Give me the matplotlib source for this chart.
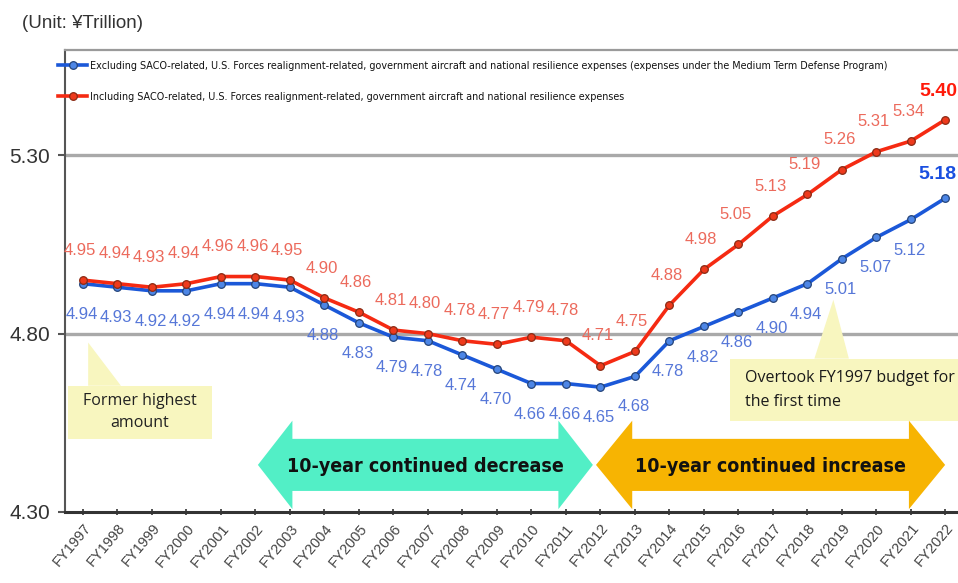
import matplotlib
matplotlib.use("Agg")
import matplotlib.pyplot as plt
from matplotlib.patches import Polygon, Rectangle

# ---------------- data ----------------
years = ["FY1997", "FY1998", "FY1999", "FY2000", "FY2001", "FY2002", "FY2003",
         "FY2004", "FY2005", "FY2006", "FY2007", "FY2008", "FY2009", "FY2010",
         "FY2011", "FY2012", "FY2013", "FY2014", "FY2015", "FY2016", "FY2017",
         "FY2018", "FY2019", "FY2020", "FY2021", "FY2022"]
excluding = [4.94, 4.93, 4.92, 4.92, 4.94, 4.94, 4.93, 4.88, 4.83, 4.79, 4.78,
             4.74, 4.70, 4.66, 4.66, 4.65, 4.68, 4.78, 4.82, 4.86, 4.90, 4.94,
             5.01, 5.07, 5.12, 5.18]
including = [4.95, 4.94, 4.93, 4.94, 4.96, 4.96, 4.95, 4.90, 4.86, 4.81, 4.80,
             4.78, 4.77, 4.79, 4.78, 4.71, 4.75, 4.88, 4.98, 5.05, 5.13, 5.19,
             5.26, 5.31, 5.34, 5.40]
yticks = [4.30, 4.80, 5.30]
label_excl = ("Excluding SACO-related, U.S. Forces realignment-related, government aircraft "
              "and national resilience expenses (expenses under the Medium Term Defense Program)")
label_incl = ("Including SACO-related, U.S. Forces realignment-related, government aircraft "
              "and national resilience expenses")
unit_text = "(Unit: ¥Trillion)"
note_former = "Former highest\namount"
note_overtook = "Overtook FY1997 budget for\nthe first time"
arrow_dec = "10-year continued decrease"
arrow_inc = "10-year continued increase"

# ---------------- style ----------------
BLUE = "#1b58d8"
RED = "#f52a12"
BLUE_LBL = "#5677d8"
RED_LBL = "#ec6a5c"
YELLOW = "#f8f6bf"
GREEN = "#52efc6"
ORANGE = "#f7b402"

fig = plt.figure(figsize=(9.58, 5.83), dpi=100)
fig.patch.set_facecolor("white")
ax = fig.add_axes([0.0679, 0.1218, 0.932, 0.7924])

x = list(range(len(years)))
ax.set_xlim(-0.52, 25.36)
ax.set_ylim(4.30, 5.595)

# reference lines
for yv in (4.80, 5.30):
    ax.axhline(yv, color="#a9a9a9", lw=2.4, zorder=0.5)

# callout boxes (yellow)
ax.add_patch(Rectangle((-0.43, 4.505), 4.17, 0.149, facecolor=YELLOW, edgecolor="none", zorder=1))
ax.add_patch(Polygon([(0.15, 4.654), (0.15, 4.775), (1.1, 4.654)], closed=True,
                     facecolor=YELLOW, edgecolor="none", zorder=1))
ax.text(1.65, 4.58, note_former, ha="center", va="center", fontsize=11.5,
        family=["Open Sans", "DejaVu Sans"], color="#222222", linespacing=1.5, zorder=5)

ax.add_patch(Rectangle((18.75, 4.556), 7.0, 0.174, facecolor=YELLOW, edgecolor="none", zorder=1))
ax.add_patch(Polygon([(21.2, 4.73), (21.75, 4.895), (22.2, 4.73)], closed=True,
                     facecolor=YELLOW, edgecolor="none", zorder=1))
ax.text(19.19, 4.642, note_overtook, ha="left", va="center", fontsize=11.5,
        family=["Open Sans", "DejaVu Sans"], color="#1a1a1a", linespacing=1.6, zorder=5)

# double-headed arrows
def double_arrow(x0, x1, head, yc, hh, bh, color):
    pts = [(x0, yc), (x0 + head, yc + hh), (x0 + head, yc + bh), (x1 - head, yc + bh),
           (x1 - head, yc + hh), (x1, yc), (x1 - head, yc - hh), (x1 - head, yc - bh),
           (x0 + head, yc - bh), (x0 + head, yc - hh)]
    ax.add_patch(Polygon(pts, closed=True, facecolor=color, edgecolor="none", zorder=2))

double_arrow(5.07, 14.78, 1.0, 4.432, 0.124, 0.073, GREEN)
double_arrow(14.87, 24.99, 1.05, 4.432, 0.124, 0.073, ORANGE)
ax.text(9.92, 4.428, arrow_dec, ha="center", va="center", fontsize=14, fontweight="bold",
        fontstretch="condensed", family="DejaVu Sans", color="#111111", zorder=5)
ax.text(19.93, 4.428, arrow_inc, ha="center", va="center", fontsize=14, fontweight="bold",
        fontstretch="condensed", family="DejaVu Sans", color="#111111", zorder=5)

# lines
ax.plot(x, excluding, color=BLUE, lw=2.6, marker="o", ms=5.5, mfc="#4d86e6",
        mec="#24447a", mew=0.9, zorder=3, label=label_excl)
ax.plot(x, including, color=RED, lw=2.6, marker="o", ms=5.5, mfc="#ee3a1c",
        mec="#8a2a14", mew=0.9, zorder=3.1, label=label_incl)

# data labels
lblfont = ["Liberation Sans", "DejaVu Sans"]
n = len(years)
for i, v in enumerate(including):
    if i == n - 1:
        ax.annotate(f"{v:.2f}", (i, v), xytext=(-5, 20), textcoords="offset points",
                    ha="center", va="center", fontsize=14, fontweight="bold",
                    color="#ff1a0a", family=lblfont, zorder=6)
    else:
        ax.annotate(f"{v:.2f}", (i, v), xytext=(-2, 21.5), textcoords="offset points",
                    ha="center", va="center", fontsize=12, color=RED_LBL,
                    family=lblfont, zorder=6)
for i, v in enumerate(excluding):
    if i == n - 1:
        ax.annotate(f"{v:.2f}", (i, v), xytext=(-6, 17), textcoords="offset points",
                    ha="center", va="center", fontsize=14, fontweight="bold",
                    color="#1a4fe0", family=lblfont, zorder=6)
    else:
        ax.annotate(f"{v:.2f}", (i, v), xytext=(-1, -22), textcoords="offset points",
                    ha="center", va="center", fontsize=12, color=BLUE_LBL,
                    family=lblfont, zorder=6)

# axes styling
ax.spines["right"].set_visible(False)
ax.spines["top"].set_color("#9a9a9a")
ax.spines["top"].set_linewidth(1.6)
ax.spines["left"].set_color("#555555")
ax.spines["left"].set_linewidth(1.5)
ax.spines["bottom"].set_color("#333333")
ax.spines["bottom"].set_linewidth(2.2)

ax.set_yticks(yticks)
ax.set_yticklabels([f"{t:.2f}" for t in yticks], family=lblfont, fontsize=15, color="#333333")
ax.tick_params(axis="y", length=5, width=1.5, color="#555555", pad=6)
ax.set_xticks(x)
ax.set_xticklabels(years, rotation=50, ha="right", rotation_mode="anchor",
                   family=lblfont, fontsize=10.5, color="#444444")
ax.tick_params(axis="x", direction="inout", length=5, width=1.2, color="#333333", pad=4)

# legend
leg = ax.legend(loc="upper left", bbox_to_anchor=(-0.012, 0.985), frameon=False,
                fontsize=6.95, handlelength=3.0, handletextpad=0.3, labelspacing=2.15,
                borderaxespad=0)
for t in leg.get_texts():
    t.set_color("#111111")

fig.text(22 / 958, 1 - 23 / 583, unit_text, ha="left", va="center", fontsize=13.5,
         family=lblfont, color="#333333")

fig.savefig("out.png", dpi=100)
